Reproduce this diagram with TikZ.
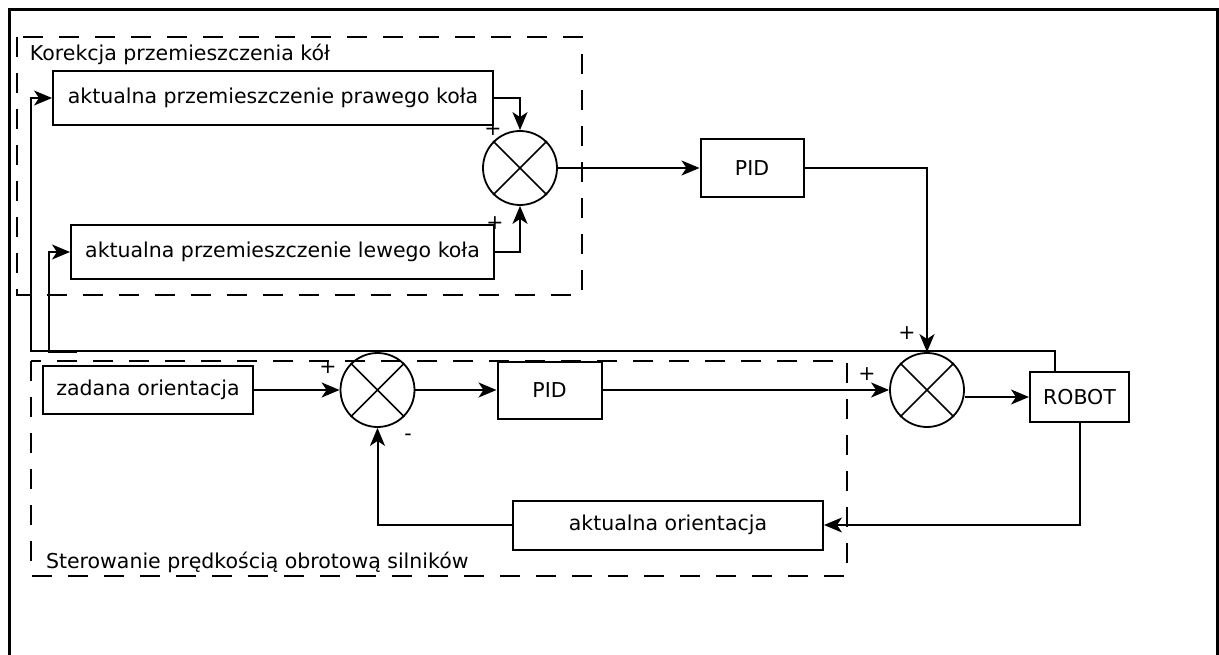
\documentclass[tikz,border=0pt]{standalone}
\usepackage{fontspec}
\setmainfont{DejaVu Sans}
\usepackage{tikz}
\usetikzlibrary{arrows.meta}

\begin{document}
\begin{tikzpicture}[x=1pt,y=-1pt,line width=2pt,
    >={Stealth[length=18pt,width=15pt,inset=5pt]},
    font=\fontsize{20.5}{24}\selectfont,
    block/.style={rectangle,draw,inner sep=0pt},
    sumnode/.style={circle,draw,line width=1.8pt,minimum size=74pt,inner sep=0pt},
    group/.style={dash pattern=on 20pt off 16pt},
    sign/.style={inner sep=0pt}]
    \useasboundingbox (0,0) rectangle (1219,655);
    \draw[line width=3pt] (9,655) -- (9,10) -- (1217,10) -- (1217,655);

    % grupy
    \draw[group] (17,37) rectangle (582,295);
    \draw[group] (31,361) rectangle (847,576);
    \node[anchor=base west,inner sep=0pt] (korekcja) at (29,61) {Korekcja przemieszczenia kół};
    \node[anchor=base west,inner sep=0pt] (sterowanie) at (45,568) {Sterowanie prędkością obrotową silników};

    % bloki
    \node[block,minimum width=440pt,minimum height=54pt] (prawy) at (273,98) {aktualna przemieszczenie prawego koła};
    \node[block,minimum width=423pt,minimum height=54pt] (lewy) at (282.5,252) {aktualna przemieszczenie lewego koła};
    \node[sumnode] (sumA) at (520,168) {};
    \node[block,minimum width=103pt,minimum height=58pt] (pidA) at (752,168) {PID};
    \node[block,minimum width=210pt,minimum height=48pt] (zadana) at (148,390) {zadana orientacja};
    \node[sumnode] (sumC) at (377.5,390) {};
    \node[block,minimum width=104pt,minimum height=57pt] (pidB) at (549.5,390) {PID};
    \node[sumnode] (sumB) at (927,390) {};
    \node[block,minimum width=99pt,minimum height=50pt] (robot) at (1079.5,397) {ROBOT};
    \node[block,minimum width=310pt,minimum height=49pt] (akt) at (668,525) {aktualna orientacja};

    \foreach \s in {sumA,sumB,sumC}
        \draw[line width=1.6pt] (\s.north west) -- (\s.south east) (\s.north east) -- (\s.south west);

    % znaki
    \node[sign] (pA) at (493,129) {+};
    \node[sign] (pB) at (495,223) {+};
    \node[sign] (pC) at (907,333) {+};
    \node[sign] (pD) at (867,374) {+};
    \node[sign] (pE) at (328,367) {+};
    \node[sign] (mE) at (408,437) {-};

    % polaczenia
    \coordinate (fbR) at (1055,351);
    \coordinate (fbL) at (31,351);
    \coordinate (split) at (77,352);
    \coordinate (lbend) at (49,352);
    \draw[->] (prawy.east) -| (sumA.north);
    \draw[->] (lewy.east) -| (sumA.south);
    \draw[->] (sumA.east) -- (pidA.west);
    \draw[->] (pidA.east) -| (sumB.north);
    \draw[->] (zadana.east) -- (sumC.west);
    \draw[->] (sumC.east) -- (pidB.west);
    \draw[->] (pidB.east) -- (sumB.west);
    \draw[->] (sumB.east |- robot.west) -- (robot.west);
    \draw[->] (robot.south) |- (akt.east);
    \draw[->] (akt.west) -| (sumC.south);
    \draw[->] ([xshift=-24.5pt]robot.north) -- (fbR) -- (fbL) |- (prawy.west);
    \draw[->] (split) -- (lbend) |- (lewy.west);
\end{tikzpicture}
\end{document}
